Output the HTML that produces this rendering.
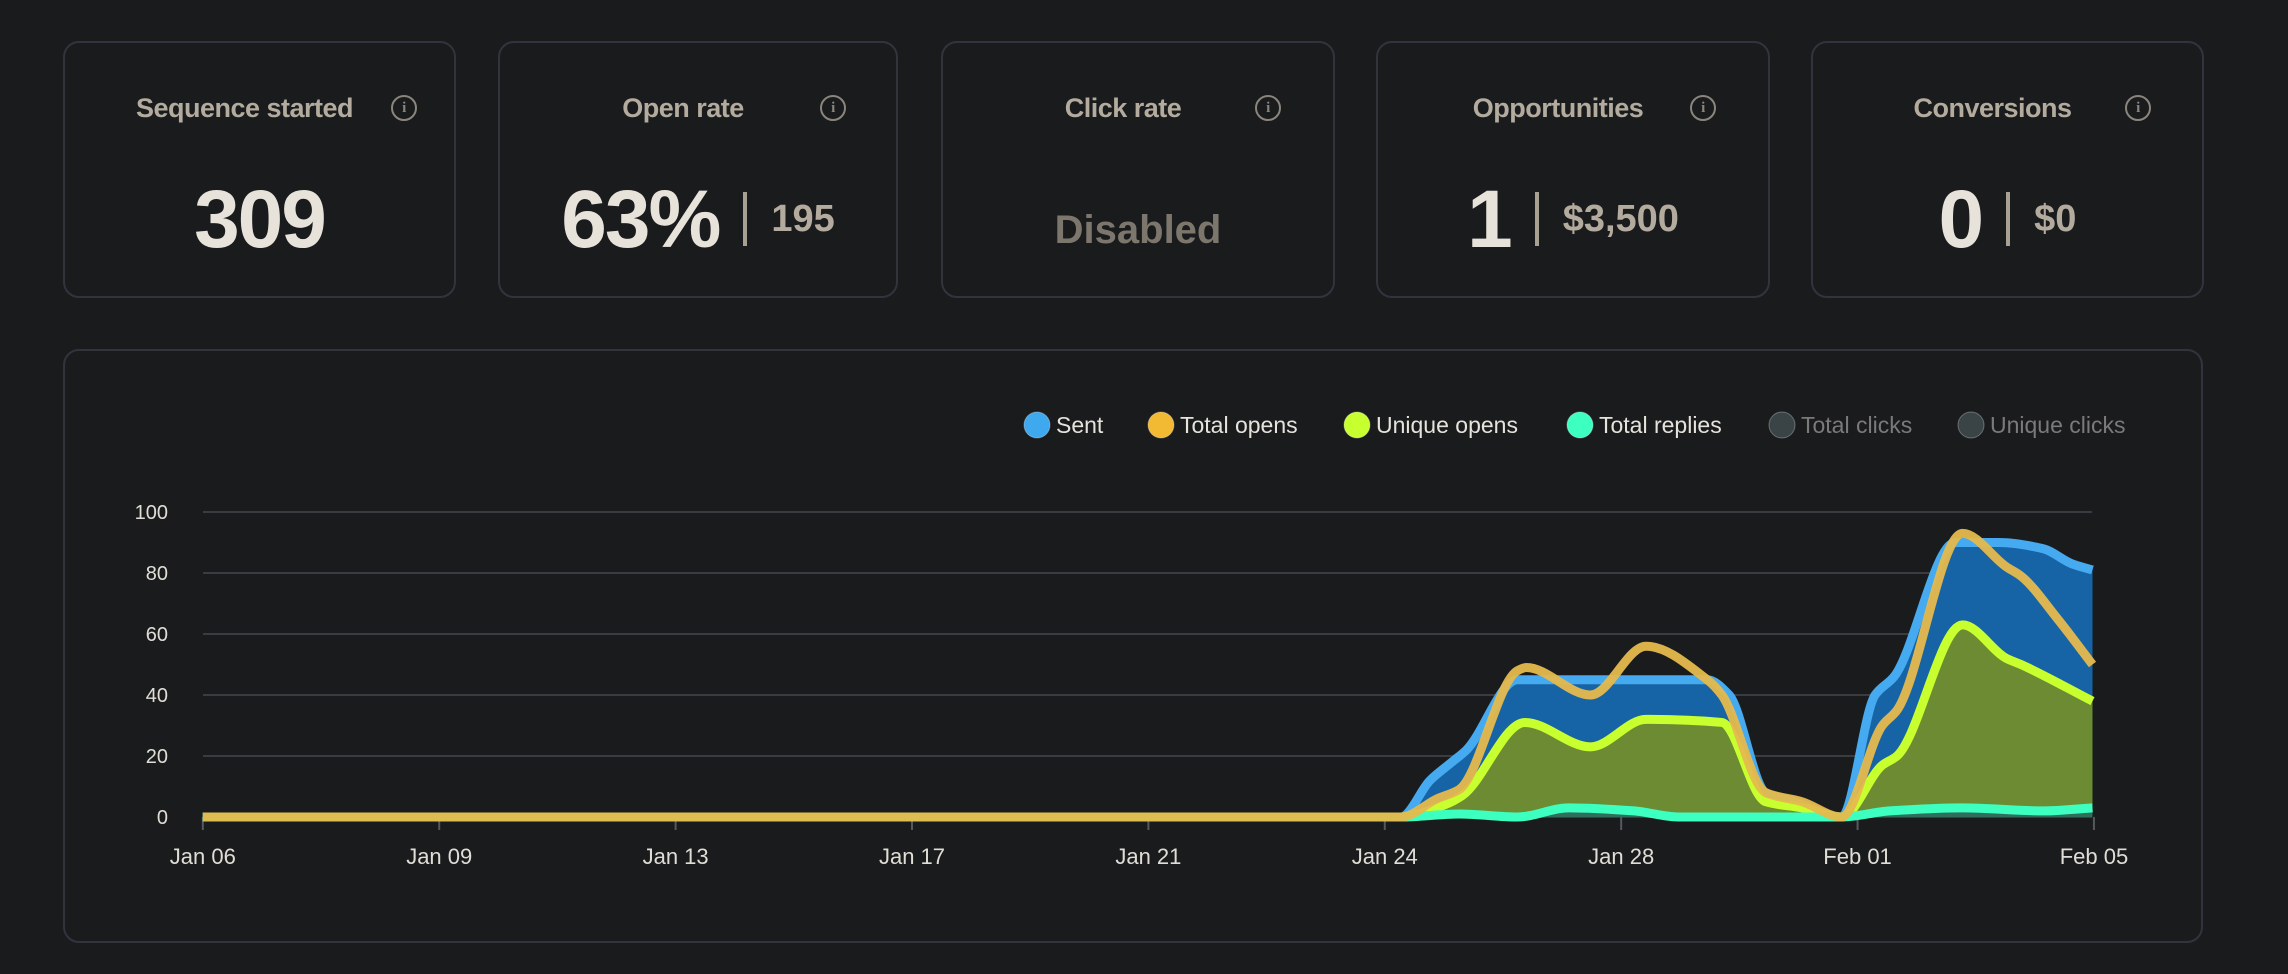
<!DOCTYPE html>
<html><head><meta charset="utf-8"><style>
html,body{margin:0;padding:0;background:#1a1b1d;width:2288px;height:974px;overflow:hidden;font-family:"Liberation Sans",sans-serif}
.card{position:absolute;top:41px;height:257px;border:2px solid #31343d;border-radius:16px;box-sizing:border-box;background:#1a1b1d}
.t{position:absolute;top:50px;left:0;right:30px;text-align:center;color:#b3ab9d;font-weight:bold;font-size:27px;letter-spacing:-0.5px}
.i{display:inline-block;width:22px;height:22px;border:2px solid #8a857d;border-radius:50%;color:#8a857d;font-size:15px;line-height:22px;text-align:center;font-family:"Liberation Serif",serif;position:absolute;top:2px}
.v{position:absolute;top:132px;left:0;right:0;text-align:center;color:#e8e3da;font-weight:bold;font-size:82px;letter-spacing:-2px;line-height:90px}
.s{font-size:38px;color:#b3ab9d;letter-spacing:0;vertical-align:middle;position:relative;top:-6px}
.bar{display:inline-block;width:4px;height:54px;background:#a8a093;vertical-align:middle;margin:0 24px;position:relative;top:-6px}
.panel{position:absolute;left:63px;top:349px;width:2140px;height:594px;border:2px solid #31343d;border-radius:16px;box-sizing:border-box}
</style></head><body>
<div class="card" style="left:63px;width:393px"><div class="t">Sequence started<span class="i" style="left:326px">i</span></div><div class="v">309</div></div>
<div class="card" style="left:498px;width:400px"><div class="t">Open rate<span class="i" style="left:320px">i</span></div><div class="v">63%<span class="bar"></span><span class="s">195</span></div></div>
<div class="card" style="left:941px;width:394px"><div class="t">Click rate<span class="i" style="left:312px">i</span></div><div class="v" style="font-size:40px;color:#7c766d;top:142px;letter-spacing:0">Disabled</div></div>
<div class="card" style="left:1376px;width:394px"><div class="t">Opportunities<span class="i" style="left:312px">i</span></div><div class="v">1<span class="bar"></span><span class="s">$3,500</span></div></div>
<div class="card" style="left:1811px;width:393px"><div class="t">Conversions<span class="i" style="left:312px">i</span></div><div class="v">0<span class="bar"></span><span class="s">$0</span></div></div>
<div class="panel"></div>
<svg id="c" width="2288" height="974" style="position:absolute;left:0;top:0" font-family="Liberation Sans, sans-serif"></svg>
<script>
const S=1.4592;
const Y=v=>817-v*3.05;
function pts(a){return a.map(p=>[p[0]*S,Y(p[1])]);}
function path(p){const n=p.length;const dx=[],m=[],t=[];
for(let i=0;i<n-1;i++){dx[i]=p[i+1][0]-p[i][0];m[i]=(p[i+1][1]-p[i][1])/dx[i];}
t[0]=m[0];t[n-1]=m[n-2];
for(let i=1;i<n-1;i++){if(m[i-1]*m[i]<=0)t[i]=0;else{const w1=2*dx[i]+dx[i-1],w2=dx[i]+2*dx[i-1];t[i]=(w1+w2)/(w1/m[i-1]+w2/m[i]);}}
let d="M"+p[0][0]+","+p[0][1];
for(let i=0;i<n-1;i++){const h=dx[i]/3;d+=` C${p[i][0]+h},${p[i][1]+t[i]*h} ${p[i+1][0]-h},${p[i+1][1]-t[i+1]*h} ${p[i+1][0]},${p[i+1][1]}`;}
return d;}
const sent=[[139,0],[960,0],[980,12],[995,18],[1005,22],[1040,45],[1170,45],[1185,40],[1210,8],[1230,5],[1262,0],[1285,40],[1298,46],[1340,90],[1370,90],[1400,88],[1420,83],[1434,81]];
const opens=[[139,0],[960,0],[985,6],[1000,9],[1040,48],[1046,49],[1090,40],[1128,56],[1170,45],[1180,40],[1210,8],[1235,5],[1262,0],[1290,30],[1300,35],[1345,93],[1375,82],[1385,79],[1410,65],[1434,50]];
const uniq=[[139,0],[960,0],[990,4],[1002,7],[1045,31],[1090,23],[1128,32],[1180,31],[1210,5],[1235,3],[1262,0],[1290,17],[1300,20],[1345,63],[1375,52],[1385,50],[1434,38]];
const rep=[[139,0],[960,0],[1000,1],[1040,0],[1075,3],[1120,2],[1150,0],[1262,0],[1295,2],[1345,3],[1400,2],[1434,3]];
let h="";
for(let k=0;k<=5;k++){const v=k*20,y=Y(v);h+=`<line x1="203" x2="2092" y1="${y}" y2="${y}" stroke="#3a3c42" stroke-width="2"/><text x="168" y="${y+7}" text-anchor="end" fill="#e0ddd6" font-size="20">${v}</text>`;}
const xl=["Jan 06","Jan 09","Jan 13","Jan 17","Jan 21","Jan 24","Jan 28","Feb 01","Feb 05"];
xl.forEach((l,i)=>{const x=(139+162*i)*S;h+=`<line x1="${x}" x2="${x}" y1="817" y2="830" stroke="#55585e" stroke-width="2"/><text x="${x}" y="864" text-anchor="middle" fill="#e0ddd6" font-size="22">${l}</text>`;});
function area(a,fill,stroke){const p=pts(a);const d=path(p);return `<path d="${d} L${p[p.length-1][0]},817 L${p[0][0]},817 Z" fill="${fill}"/><path d="${d}" fill="none" stroke="${stroke}" stroke-width="9" stroke-linejoin="round"/>`;}
h+=area(sent,"#1664a6","#45aaf0");
h+=area(uniq,"#6c8b32","#c8ff2e");
h+=area(rep,"#2f6e5a","#3dffc0");
h+=`<path d="${path(pts(opens))}" fill="none" stroke="#e6b94c" stroke-width="9" stroke-linejoin="round" opacity="0.95"/>`;
const lg=[[1037,"#3fa9f0","Sent","#e6e3dc"],[1161,"#f2b933","Total opens","#e6e3dc"],[1357,"#c8ff2e","Unique opens","#e6e3dc"],[1580,"#3dffc0","Total replies","#e6e3dc"],[1782,"#3a4446","Total clicks","#7a7a7a"],[1971,"#3a4446","Unique clicks","#7a7a7a"]];
lg.forEach(l=>{h+=`<circle cx="${l[0]}" cy="425" r="13" fill="${l[1]}" stroke="#fff" stroke-opacity="0.3"/><text x="${l[0]+19}" y="433" fill="${l[3]}" font-size="23">${l[2]}</text>`;});
document.getElementById("c").innerHTML=h;
</script>
</body></html>
